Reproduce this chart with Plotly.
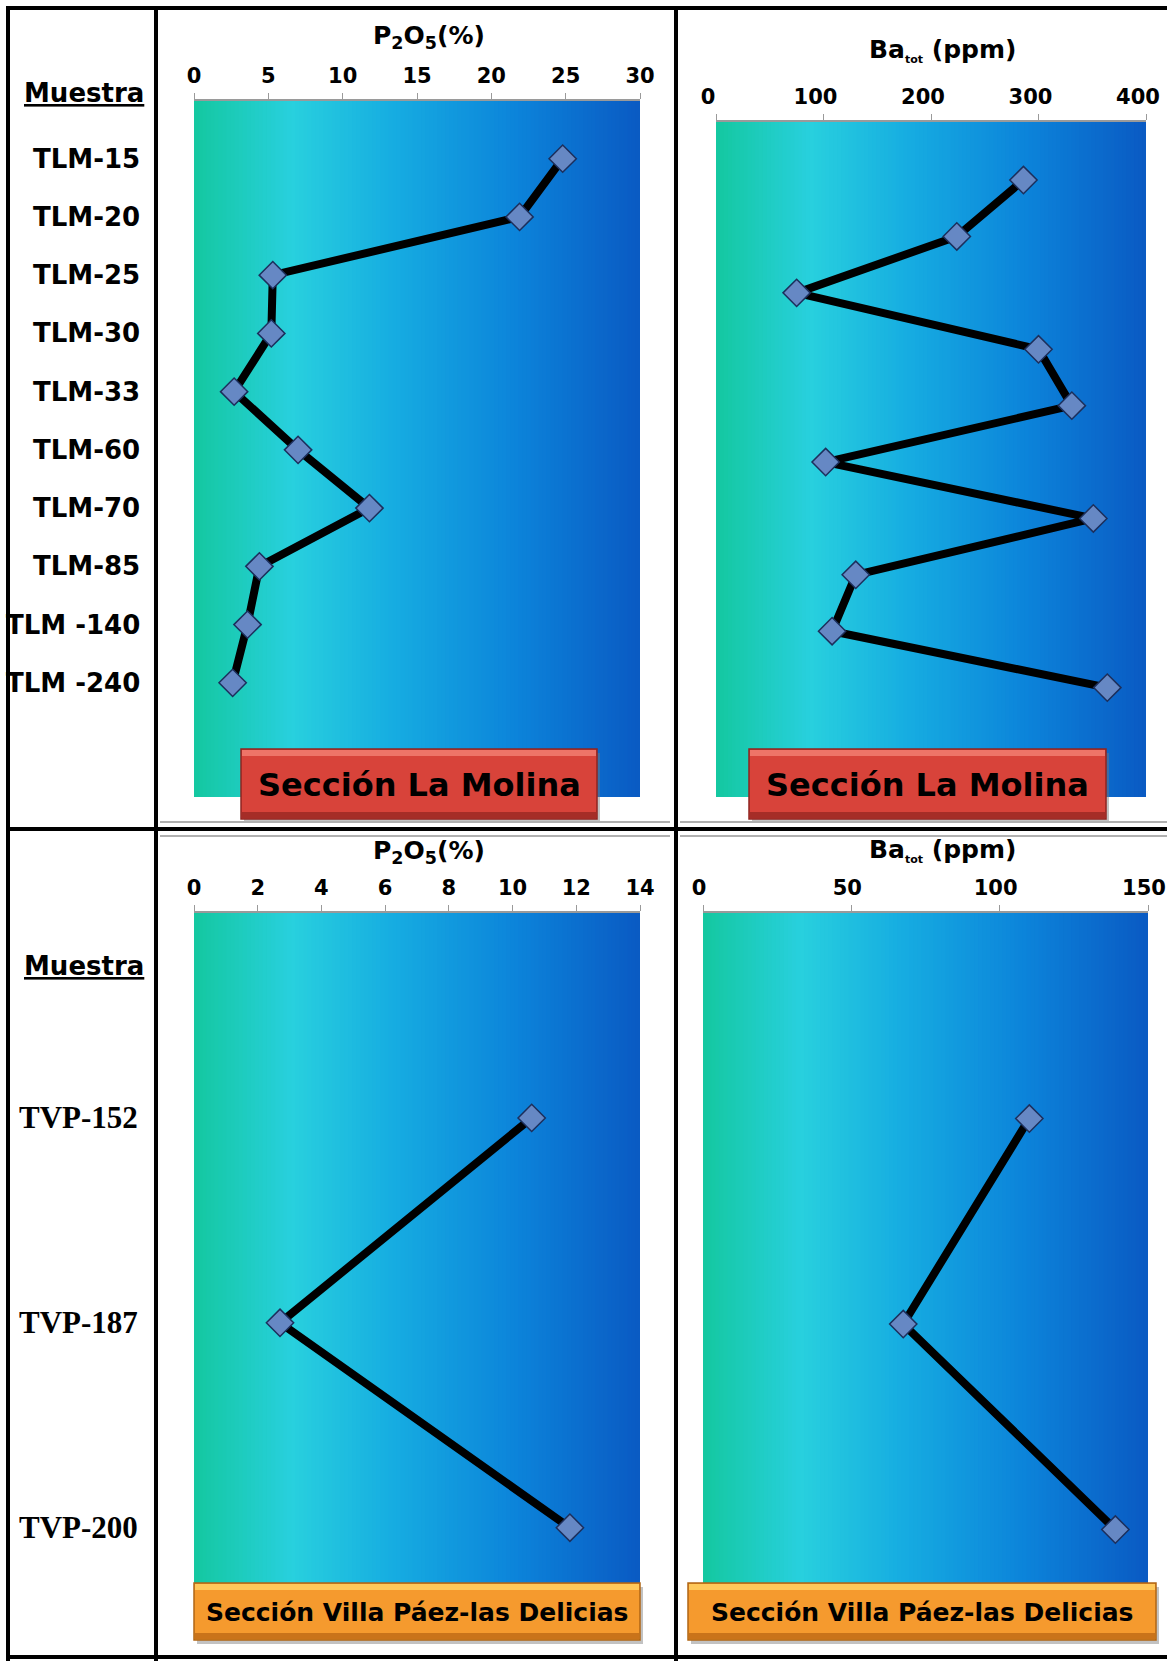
import plotly.graph_objects as go

W, H = 1167, 1661

# ---------------- data ----------------
molina_samples = ["TLM-15", "TLM-20", "TLM-25", "TLM-30", "TLM-33",
                  "TLM-60", "TLM-70", "TLM-85", "TLM -140", "TLM -240"]
molina_p2o5 = [24.8, 21.9, 5.3, 5.2, 2.7, 7.0, 11.8, 4.4, 3.6, 2.6]
molina_ba = [286, 224, 75, 300, 331, 102, 351, 130, 108, 364]

villa_samples = ["TVP-152", "TVP-187", "TVP-200"]
villa_p2o5 = [10.6, 2.7, 11.8]
villa_ba = [110, 67.5, 139]

p2o5_ticks_molina = [0, 5, 10, 15, 20, 25, 30]
ba_ticks_molina = [0, 100, 200, 300, 400]
p2o5_ticks_villa = [0, 2, 4, 6, 8, 10, 12, 14]
ba_ticks_villa = [0, 50, 100, 150]

p2o5_title = "P<sub>2</sub>O<sub>5</sub>(%)"
ba_title = "Ba<sub><span style='font-size:11px'>tot</span></sub> (ppm)"
sample_header = "<u>Muestra</u>"
molina_label = "Sección La Molina"
villa_label = "Sección Villa Páez-las Delicias"


# ---------------- helpers ----------------
def px(x):
    return x / W


def py(y):
    return 1 - y / H


def mix(c1, c2, t):
    return tuple(round(a + (b - a) * t) for a, b in zip(c1, c2))


GRAD = [(0.0, (20, 200, 160)), (0.22, (40, 208, 222)), (0.45, (22, 172, 225)),
        (0.72, (12, 132, 218)), (1.0, (10, 90, 195))]


def grad_color(t):
    for (t0, c0), (t1, c1) in zip(GRAD[:-1], GRAD[1:]):
        if t0 <= t <= t1:
            return "rgb(%d,%d,%d)" % mix(c0, c1, (t - t0) / (t1 - t0))
    return "rgb(%d,%d,%d)" % GRAD[-1][1]


fig = go.Figure()
shapes = []
annotations = []

# panel geometry (pixels): x0, x1, y0, y1, y-range in category units
panels = [
    dict(xa="x", ya="y", x0=194, x1=640, y0=101, y1=797, yr=[10.96, -0.99],
         xr=[0, 30], ticks=p2o5_ticks_molina, cats=molina_samples, vals=molina_p2o5,
         shift=0),
    dict(xa="x2", ya="y2", x0=716, x1=1146, y0=122, y1=797, yr=[10.94, -1.03],
         xr=[0, 400], ticks=ba_ticks_molina, cats=molina_samples, vals=molina_ba,
         shift=-8),
    dict(xa="x3", ya="y3", x0=194, x1=640, y0=913, y1=1622, yr=[2.46, -1.0],
         xr=[0, 14], ticks=p2o5_ticks_villa, cats=villa_samples, vals=villa_p2o5,
         shift=0),
    dict(xa="x4", ya="y4", x0=703, x1=1148, y0=913, y1=1622, yr=[2.45, -1.0],
         xr=[0, 150], ticks=ba_ticks_villa, cats=villa_samples, vals=villa_ba,
         shift=-4),
]

tick_font = dict(family="DejaVu Sans", size=21, color="black", weight="bold")

for i, p in enumerate(panels):
    n = "" if i == 0 else str(i + 1)
    fig.add_trace(go.Scatter(
        x=p["vals"], y=p["cats"], xaxis=p["xa"], yaxis=p["ya"],
        mode="lines+markers",
        line=dict(color="black", width=8),
        marker=dict(symbol="diamond", size=21, color="#6688C4",
                    line=dict(color="#1C2F5C", width=1.5)),
        showlegend=False, hoverinfo="x+y",
    ))
    fig.layout["xaxis" + n] = dict(
        domain=[px(p["x0"]), px(p["x1"])], anchor=p["ya"], side="top",
        range=p["xr"], tickvals=p["ticks"], ticktext=[str(t) for t in p["ticks"]],
        showgrid=False, zeroline=False, showline=True, linecolor="#9a9a9a",
        linewidth=1.5, ticks="outside", ticklen=6, tickcolor="#9a9a9a",
        tickfont=tick_font, ticklabelstandoff=2, ticklabelshift=p["shift"],
        ticklabeloverflow="allow", fixedrange=True, automargin=False,
    )
    fig.layout["yaxis" + n] = dict(
        domain=[py(p["y1"]), py(p["y0"])], anchor=p["xa"], type="category",
        categoryorder="array", categoryarray=p["cats"], range=p["yr"],
        showticklabels=False, showgrid=False, zeroline=False, showline=False,
        ticks="", fixedrange=True, automargin=False,
    )
    # horizontal colour gradient behind the data
    N = 110
    for k in range(N):
        shapes.append(dict(
            type="rect", xref=p["xa"] + " domain", yref=p["ya"] + " domain",
            x0=k / N, x1=min(1, (k + 1.6) / N), y0=0, y1=1,
            fillcolor=grad_color((k + 0.5) / N), line=dict(width=0), layer="below",
        ))

# axis titles
title_font = dict(family="DejaVu Sans", size=25, color="black", weight="bold")
for x, y, t in [(429, 37, p2o5_title), (942, 50, ba_title),
                (429, 852, p2o5_title), (942, 850, ba_title)]:
    annotations.append(dict(x=px(x), y=py(y), xref="paper", yref="paper",
                            text=t, showarrow=False, font=title_font,
                            xanchor="center", yanchor="middle"))

# sample names in the left column
label_font = dict(family="DejaVu Sans", size=26, color="black", weight="bold")
for s in molina_samples:
    annotations.append(dict(x=px(142), y=s, xref="paper", yref="y", text=s,
                            showarrow=False, font=label_font,
                            xanchor="right", yanchor="middle"))
villa_font = dict(family="Liberation Serif", size=31, color="black", weight="bold")
for s in villa_samples:
    annotations.append(dict(x=px(140), y=s, xref="paper", yref="y3", text=s,
                            showarrow=False, font=villa_font,
                            xanchor="right", yanchor="middle"))
for y in (93, 966):
    annotations.append(dict(x=px(146), y=py(y), xref="paper", yref="paper",
                            text=sample_header, showarrow=False, font=label_font,
                            xanchor="right", yanchor="middle"))


# section name boxes
def box(x0, y0, x1, y1, fill, top, bottom, edge, text, font):
    shapes.append(dict(type="rect", xref="paper", yref="paper",
                       x0=px(x0 + 3), x1=px(x1 + 3), y0=py(y1 + 4), y1=py(y0 + 4),
                       fillcolor="rgba(120,120,120,0.45)", line=dict(width=0),
                       layer="above"))
    shapes.append(dict(type="rect", xref="paper", yref="paper",
                       x0=px(x0), x1=px(x1), y0=py(y1), y1=py(y0),
                       fillcolor=fill, line=dict(color=edge, width=1.5),
                       layer="above"))
    shapes.append(dict(type="rect", xref="paper", yref="paper",
                       x0=px(x0 + 1), x1=px(x1 - 1), y0=py(y0 + 7), y1=py(y0 + 1),
                       fillcolor=top, line=dict(width=0), layer="above"))
    shapes.append(dict(type="rect", xref="paper", yref="paper",
                       x0=px(x0 + 1), x1=px(x1 - 1), y0=py(y1 - 1), y1=py(y1 - 7),
                       fillcolor=bottom, line=dict(width=0), layer="above"))
    annotations.append(dict(x=px((x0 + x1) / 2), y=py((y0 + y1) / 2 + 1),
                            xref="paper", yref="paper", text=text,
                            showarrow=False, font=font,
                            xanchor="center", yanchor="middle"))


red_font = dict(family="DejaVu Sans", size=32, color="black", weight="bold")
orange_font = dict(family="DejaVu Sans", size=25, color="black", weight="bold")
box(241, 749, 597, 819, "#D8433A", "#EE7468", "#A52D27", "#8E2520", molina_label, red_font)
box(749, 749, 1106, 819, "#D8433A", "#EE7468", "#A52D27", "#8E2520", molina_label, red_font)
box(194, 1583, 640, 1640, "#F59A2E", "#FFC85A", "#C9731A", "#B06515", villa_label, orange_font)
box(688, 1583, 1156, 1640, "#F59A2E", "#FFC85A", "#C9731A", "#B06515", villa_label, orange_font)

# frame lines
frame = [
    (6, 8, 1167, 8), (8, 6, 8, 1661), (156, 6, 156, 1661), (676, 6, 676, 1661),
    (6, 829, 1167, 829), (6, 1657, 1167, 1657),
]
for x0, y0, x1, y1 in frame:
    shapes.append(dict(type="line", xref="paper", yref="paper",
                       x0=px(x0), x1=px(x1), y0=py(y0), y1=py(y1),
                       line=dict(color="black", width=4), layer="above"))
# thin grey chart-border lines next to the frame
for x0, y0, x1, y1 in [(160, 822, 670, 822), (680, 822, 1167, 822),
                       (160, 836, 670, 836), (680, 836, 1167, 836)]:
    shapes.append(dict(type="line", xref="paper", yref="paper",
                       x0=px(x0), x1=px(x1), y0=py(y0), y1=py(y1),
                       line=dict(color="#b0b0b0", width=2), layer="above"))

fig.update_layout(
    width=W, height=H, margin=dict(l=0, r=0, t=0, b=0, autoexpand=False),
    paper_bgcolor="white", plot_bgcolor="rgba(0,0,0,0)",
    shapes=shapes, annotations=annotations, showlegend=False,
)

fig.write_html(
    "out.html",
    post_script="document.body.style.margin='0';document.body.style.overflow='hidden';",
)
